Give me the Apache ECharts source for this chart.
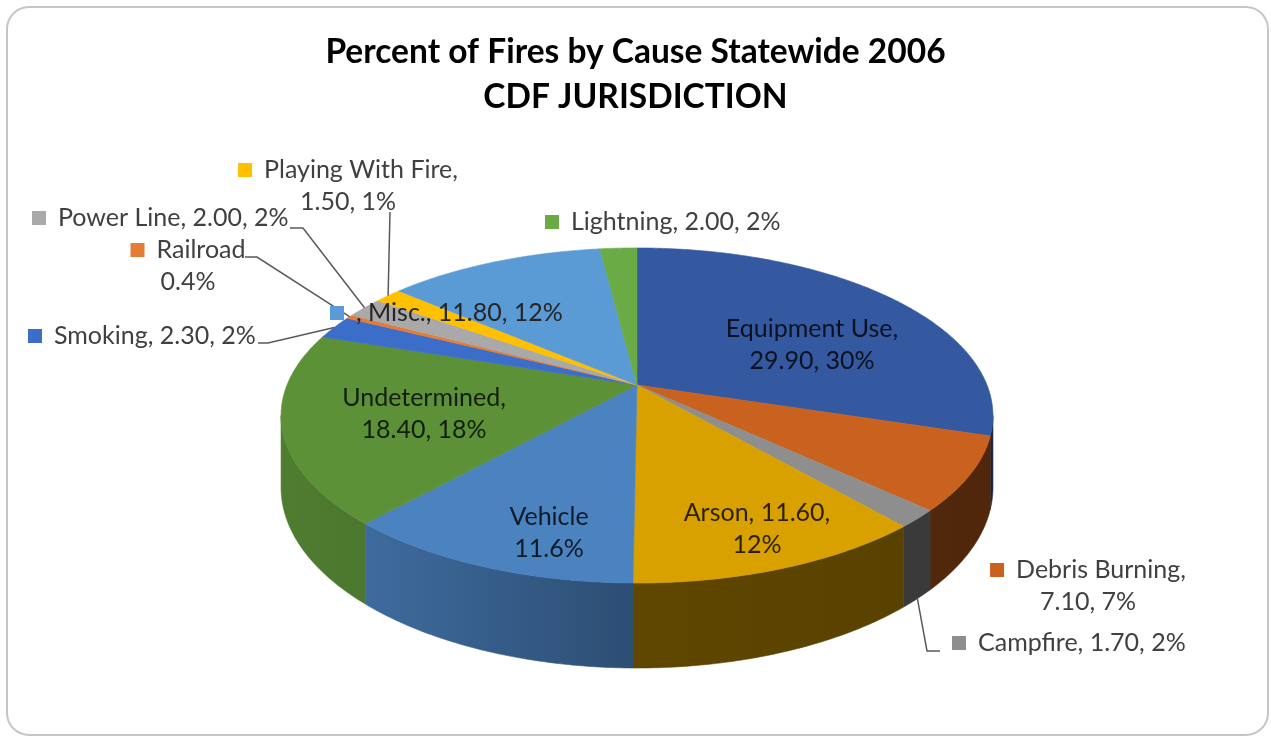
<!DOCTYPE html>
<html>
<head>
<meta charset="utf-8">
<script src="https://cdn.jsdelivr.net/npm/echarts@6/dist/echarts.min.js"></script>
<style>
html,body{margin:0;padding:0;background:#fff;}
#chart{width:1271px;height:738px;}
</style>
</head>
<body>
<div id="chart"></div>
<script>
// ---- data ----
const categories = ['Equipment Use','Debris Burning','Campfire','Arson','Vehicle','Undetermined','Smoking','Railroad','Power Line','Playing With Fire','Misc.','Lightning'];
const values = [29.9, 7.1, 1.7, 11.6, 11.6, 18.4, 2.3, 0.4, 2.0, 1.5, 11.8, 2.0];
const colors = ['#3459a1','#c9621f','#8e8e8e','#d9a100','#4b82c0','#5c9138','#3b6dc9','#e47c35','#a9a9a9','#ffc000','#5b9bd5','#6bab46'];
const labelFormats = ['{b},\n{v2}, {p}%','{b},\n{v2}, {p}%','{b}, {v2}, {p}%','{b}, {v2},\n{p}%','{b}\n{v1}%','{b},\n{v2}, {p}%','{b}, {v2}, {p}%','{b}\n{v1}%','{b}, {v2}, {p}%','{b},\n{v2}, {p}%',', {b}, {v2}, {p}%','{b}, {v2}, {p}%'];
const titleLines = ['Percent of Fires by Cause Statewide 2006', 'CDF JURISDICTION'];

// ---- layout / style (not data) ----
const G = {cx: 637, cy: 385, S: 350, T: 162, p: 0.182, H: 69.5};
const labelLayout = [
  {x: 812, y: 345, align: 'center', inside: true},
  {x: 1088, y: 586, align: 'center', key: true},
  {x: 952, y: 643, align: 'left', key: true, leader: [[940, 651], [927, 651]], fromBottom: true},
  {x: 757, y: 529, align: 'center', inside: true},
  {x: 549, y: 533, align: 'center', inside: true},
  {x: 424, y: 414, align: 'center', inside: true},
  {x: 28, y: 336, align: 'left', key: true, leader: [[258, 343], [268, 343]]},
  {x: 188, y: 266, align: 'center', key: true, leader: [[245, 257], [257, 257]]},
  {x: 32, y: 218, align: 'left', key: true, leader: [[290, 228], [303, 228]]},
  {x: 348, y: 186, align: 'center', key: true, leader: [[390, 212]]},
  {x: 330, y: 313, align: 'left', key: true, dark: true},
  {x: 545, y: 222, align: 'left', key: true}
];
const FONT = 'Lato, "Open Sans", sans-serif';

const total = values.reduce((a, b) => a + b, 0);
const starts = [], ends = [];
(function () {
  let c = 0;
  values.forEach(v => { starts.push(c / total * Math.PI * 2); c += v; ends.push(c / total * Math.PI * 2); });
})();

function proj(theta, r, bottom) {
  const x = r * Math.sin(theta), yd = r * Math.cos(theta);
  const d = 1 + G.p * yd;
  return [G.cx + G.S * x / d, G.cy - G.T * yd / d + (bottom ? G.H / d : 0)];
}
function arcPts(a, b, r, bottom) {
  const n = Math.max(2, Math.ceil((b - a) / 0.01));
  const pts = [];
  for (let k = 0; k <= n; k++) pts.push(proj(a + (b - a) * k / n, r, bottom));
  return pts;
}
function hexToRgb(h) { const n = parseInt(h.slice(1), 16); return [(n >> 16) & 255, (n >> 8) & 255, n & 255]; }
function shade(h, f) { const c = hexToRgb(h); return 'rgb(' + c.map(v => Math.round(v * f)).join(',') + ')'; }
const shadeStops = [[280, 0.86], [370, 0.82], [632.5, 0.6], [633.5, 0.44], [1000, 0.4]];
function shadeAt(x) {
  if (x <= shadeStops[0][0]) return shadeStops[0][1];
  for (let k = 1; k < shadeStops.length; k++) {
    if (x <= shadeStops[k][0]) {
      const a = shadeStops[k - 1], b = shadeStops[k];
      return a[1] + (b[1] - a[1]) * (x - a[0]) / (b[0] - a[0]);
    }
  }
  return shadeStops[shadeStops.length - 1][1];
}
const thR = Math.acos(-G.p), thL = 2 * Math.PI - thR;

function fmtLabel(i) {
  const v = values[i];
  return labelFormats[i]
    .replace('{b}', categories[i])
    .replace('{v2}', v.toFixed(2))
    .replace('{v1}', v.toFixed(1))
    .replace('{p}', String(Math.round(v / total * 100)));
}

const seriesData = values.map((v, i) => ({name: categories[i], value: [i, v]}));

function renderWall(params, api) {
  const i = params.dataIndex;
  const a = Math.max(starts[i], thR), b = Math.min(ends[i], thL);
  if (b <= a) return {type: 'group', children: []};
  const top = arcPts(a, b, 1, false);
  const bot = arcPts(a, b, 1, true).reverse();
  const x0 = top[0][0], x1 = top[top.length - 1][0];
  const lo = Math.min(x0, x1), hi = Math.max(x0, x1);
  const fill = new echarts.graphic.LinearGradient(lo, 0, hi + 0.01, 0, [
    {offset: 0, color: shade(colors[i], shadeAt(lo + 1))},
    {offset: 1, color: shade(colors[i], shadeAt(hi - 1))}
  ], true);
  return {type: 'polygon', shape: {points: top.concat(bot)}, style: {fill: fill, stroke: fill, lineWidth: 0.6}};
}
function renderTop(params, api) {
  const i = params.dataIndex;
  const pts = [[G.cx, G.cy]].concat(arcPts(starts[i], ends[i], 1, false));
  return {type: 'polygon', shape: {points: pts}, style: {fill: colors[i], stroke: colors[i], lineWidth: 0.6}};
}
function renderLabel(params, api) {
  const i = params.dataIndex;
  const L = labelLayout[i];
  const children = [];
  if (L.leader) {
    const mid = (starts[i] + ends[i]) / 2;
    const pts = L.leader.concat([proj(mid, 1, !!L.fromBottom)]);
    children.push({type: 'polyline', shape: {points: pts}, style: {stroke: '#595959', lineWidth: 1.5, fill: null}, z2: 1});
  }
  const txt = fmtLabel(i);
  const fill = L.inside ? 'rgba(0,0,0,0.8)' : (L.dark ? '#262626' : '#404040');
  let text = txt;
  if (L.key) {
    const lines = txt.split('\n');
    lines[0] = '{k|}{g|}' + lines[0];
    text = lines.join('\n');
  }
  children.push({
    type: 'text', z2: 2,
    style: {
      x: L.x, y: L.y, text: text, align: L.align, verticalAlign: 'middle',
      fill: fill, fontFamily: FONT, fontSize: 25, lineHeight: 32,
      rich: {
        k: {width: 14, height: 14, backgroundColor: colors[i], verticalAlign: 'middle'},
        g: {width: 12, height: 14}
      }
    }
  });
  return {type: 'group', children: children};
}

const chart = echarts.init(document.getElementById('chart'), null, {renderer: 'canvas'});
const titleStyle = {fontFamily: FONT, fontSize: 33.5, fontWeight: 'bold', color: '#000', lineHeight: 40};
chart.setOption({
  backgroundColor: '#ffffff',
  animation: false,
  title: [
    {text: titleLines[0], left: 'center', top: 32, padding: 0, textStyle: titleStyle},
    {text: titleLines[1], left: 'center', top: 77, padding: 0, textStyle: titleStyle}
  ],
  graphic: [{
    type: 'rect', silent: true, z: -10,
    shape: {x: 7, y: 7, width: 1261, height: 728, r: 22},
    style: {fill: 'none', stroke: '#c6c6c6', lineWidth: 2}
  }],
  series: [
    {type: 'custom', name: 'walls', coordinateSystem: 'none', z: 1, silent: true, data: seriesData, renderItem: renderWall},
    {type: 'custom', name: 'tops', coordinateSystem: 'none', z: 2, silent: true, data: seriesData, renderItem: renderTop},
    {type: 'custom', name: 'labels', coordinateSystem: 'none', z: 3, silent: true, data: seriesData, renderItem: renderLabel}
  ]
});
</script>
</body>
</html>
